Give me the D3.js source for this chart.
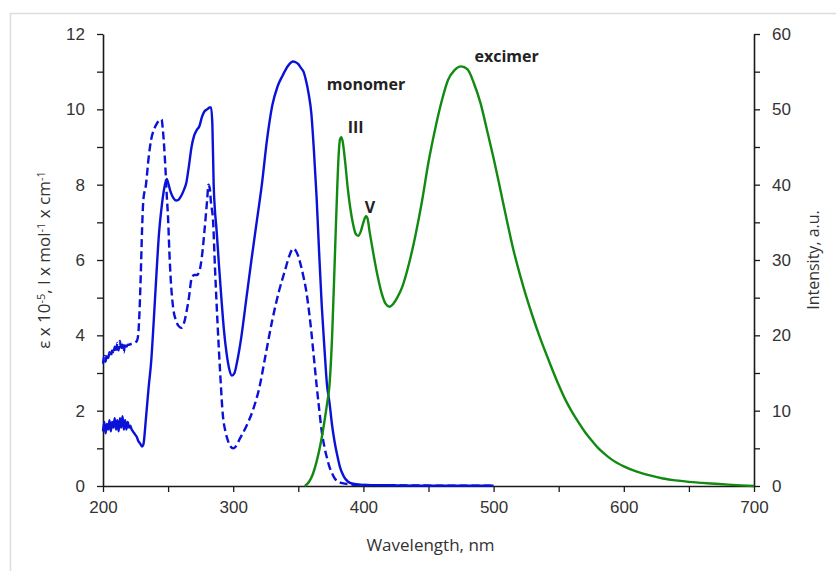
<!DOCTYPE html>
<html>
<head>
<meta charset="utf-8">
<script src="https://cdn.jsdelivr.net/npm/d3@7"></script>
<style>
  body { margin: 0; background: #fff; }
  svg { display: block; font-family: 'Open Sans', sans-serif; }
</style>
</head>
<body>
<div id="chart-area"></div>
<script>

// absorption, solid line (left axis): [wavelength, epsilon]
const absSolid = [
  [200,1.45],[201,1.7],[202,1.4],[203,1.65],[204,1.5],[205,1.75],[206,1.45],[207,1.7],[208,1.55],[209,1.8],
  [210,1.5],[211,1.75],[212,1.45],[213,1.8],[214,1.55],[215,1.85],[216,1.5],[217,1.75],[218,1.5],[219,1.7],
  [220,1.55],[221,1.6],[222,1.5],[223,1.45],[224,1.4],[225,1.35],[226,1.3],[227,1.2],[228,1.15],[229,1.1],
  [230,1.05],[231,1.1],[233,1.8],[235,2.6],[237,3.3],[239,4.4],[241,5.6],[243,6.7],[245,7.4],[247,7.9],
  [249,8.15],[250,8.05],[252,7.8],[254,7.65],[256,7.58],[258,7.6],[260,7.7],[262,7.85],[264,8.05],[266,8.5],
  [268,9.0],[270,9.3],[272,9.45],[274,9.55],[276,9.8],[278,9.95],[280,10.0],[282,10.05],[283,10.05],[284,9.6],
  [285,8.0],[286,7.3],[287,6.9],[289,5.9],[291,4.95],[293,4.1],[295,3.5],[297,3.1],[299,2.93],[301,3.0],
  [303,3.3],[306,3.9],[310,4.95],[314,6.0],[318,7.0],[322,8.0],[326,9.2],[330,10.1],[334,10.6],[338,10.9],
  [342,11.15],[346,11.27],[348,11.25],[350,11.2],[352,11.1],[354,11.0],[356,10.75],[358,10.4],[360,9.9],[362,8.9],
  [364,7.7],[366,6.2],[368,4.8],[370,3.7],[372,2.7],[374,2.2],[376,1.6],[378,1.15],[380,0.8],[382,0.5],
  [385,0.25],[388,0.12],[392,0.06],[400,0.03],[420,0.02],[450,0.01],[500,0.01]
];

// absorption, dashed line (left axis)
const absDashed = [
  [200,3.25],[201,3.45],[202,3.3],[203,3.5],[204,3.4],[205,3.55],[206,3.45],[207,3.6],[208,3.5],[209,3.7],
  [210,3.55],[211,3.8],[212,3.6],[213,3.85],[214,3.6],[215,3.75],[216,3.55],[217,3.8],[218,3.7],[219,3.75],
  [220,3.75],[222,3.78],[224,3.8],[226,3.85],[227,4.0],[228,4.6],[229,5.6],[230,6.8],[231,7.6],[233,8.0],
  [235,8.7],[237,9.2],[239,9.45],[241,9.6],[243,9.7],[245,9.73],[246,9.45],[247,9.0],[248,8.4],[249,7.7],
  [250,7.1],[251,6.2],[252,5.5],[254,4.7],[256,4.4],[258,4.25],[260,4.2],[262,4.3],[264,4.6],[266,5.0],
  [268,5.5],[270,5.6],[272,5.6],[274,5.7],[276,6.1],[278,6.8],[280,7.6],[281,8.0],[282,7.9],[283,7.5],
  [284.5,7.07],[286,5.8],[288,4.3],[290,3.0],[292,1.9],[294,1.45],[296,1.2],[298,1.05],[300,1.0],[302,1.05],
  [305,1.25],[310,1.58],[315,2.0],[320,2.6],[325,3.5],[330,4.4],[335,5.15],[340,5.75],[343,6.1],[346,6.3],
  [348,6.25],[350,6.1],[352,5.85],[354,5.55],[356,5.2],[358,4.7],
  [360,4.1],[362,3.4],[364,2.7],[366,2.05],[368,1.45],[370,1.05],[372,0.75],[374,0.5],[376,0.33],[378,0.2],
  [380,0.13],[383,0.08],[388,0.05],[395,0.03],[420,0.02],[460,0.01],[500,0.01]
];

// fluorescence (right axis): [wavelength, intensity]
const emission = [
  [355,0],[358,0.5],[361,1.5],[364,3.2],[367,5.5],[370,8.5],[372,10.8],[374,13.5],[376,20],[378,30],
  [380,40],[381,44],[382,46],[383,46.3],[384,45.8],[386,43],[388,39.5],[390,36.8],[392,34.8],[394,33.5],
  [396,33.2],[398,33.8],[400,35],[402,35.8],[403,35.6],[405,33.5],[408,30.5],[411,27.8],[414,25.6],[417,24.2],
  [420,23.8],[423,24.2],[426,25],[430,26.5],[435,29.5],[440,33.3],[445,37.8],[450,43],[455,47.3],[460,51],
  [465,53.9],[470,55.2],[475,55.7],[480,55.3],[485,53.4],[490,50.8],[495,47.2],[500,43.5],[505,39.5],[510,35.4],
  [515,31.5],[520,28.2],[525,25.2],[530,22.5],[535,20.0],[540,17.7],[545,15.5],[550,13.4],[555,11.5],[560,9.9],
  [565,8.5],[570,7.2],[575,6.1],[580,5.1],[585,4.3],[590,3.6],[600,2.6],[610,1.9],[620,1.4],[630,1.0],
  [640,0.75],[650,0.55],[660,0.42],[670,0.3],[680,0.18],[690,0.08],[700,0]
];

// peak labels: [text, wavelength, intensity (right axis) of the baseline]
const peakLabels = [
  ['monomer', 402, 52.6],
  ['III', 394, 46.9],
  ['V', 405, 36.3],
  ['excimer', 510, 56.3],
];

const xTicks = d3.range(200, 701, 50);
const yLeftTicks = d3.range(0, 13, 1);
const yRightTicks = d3.range(0, 61, 5);

const margin = { top: 34, right: 82, bottom: 85, left: 103 };
const widthSvg = 836;
const heightSvg = 571;
const widthChart = widthSvg - margin.left - margin.right;
const heightChart = heightSvg - margin.top - margin.bottom;

const svg = d3.select('#chart-area').append('svg')
  .attr('width', widthSvg)
  .attr('height', heightSvg);

// light frame of the original figure
svg.append('rect')
  .attr('x', 10.5).attr('y', 13.5)
  .attr('width', 840).attr('height', 580)
  .attr('fill', 'none')
  .attr('stroke', '#dcdcdc')
  .attr('stroke-width', 1.5);

const chart = svg.append('g')
  .attr('transform', `translate(${margin.left}, ${margin.top})`);

const scaleX = d3.scaleLinear().domain([200, 700]).range([0, widthChart]);
const scaleYLeft = d3.scaleLinear().domain([0, 12]).range([heightChart, 0]);
const scaleYRight = d3.scaleLinear().domain([0, 60]).range([heightChart, 0]);

const styleAxis = g => {
  g.select('.domain').attr('stroke', '#1a1a1a').attr('stroke-width', 1.6);
  g.selectAll('.tick line').attr('stroke', '#1a1a1a').attr('stroke-width', 1.3);
  g.selectAll('.tick text').attr('fill', '#333').attr('font-size', '17px');
};

const axisGroupX = chart.append('g')
  .attr('transform', `translate(0, ${heightChart})`)
  .call(d3.axisBottom(scaleX).tickValues(xTicks).tickSize(6).tickSizeOuter(0)
    .tickFormat(d => d % 100 === 0 ? d : ''))
  .call(styleAxis);
axisGroupX.selectAll('.tick text').attr('dy', '1.05em');

chart.append('g')
  .call(d3.axisLeft(scaleYLeft).tickValues(yLeftTicks).tickSize(6).tickSizeOuter(0)
    .tickPadding(12).tickFormat(d => d % 2 === 0 ? d : ''))
  .call(styleAxis);

chart.append('g')
  .attr('transform', `translate(${widthChart}, 0)`)
  .call(d3.axisRight(scaleYRight).tickValues(yRightTicks).tickSize(6).tickSizeOuter(0)
    .tickPadding(12).tickFormat(d => d % 10 === 0 ? d : ''))
  .call(styleAxis);

// axis titles
chart.append('text')
  .text('Wavelength, nm')
    .attr('x', widthChart / 2 + 2)
    .attr('y', heightChart + 65)
    .attr('text-anchor', 'middle')
    .attr('font-size', '17px')
    .attr('fill', '#333');

const titleLeft = chart.append('text')
  .attr('transform', `translate(-53, ${heightChart / 2})rotate(-90)`)
  .attr('text-anchor', 'middle')
  .attr('font-size', '17px')
  .attr('fill', '#333');
[['ε x 10', false], ['-5', true], [', l x mol', false], ['-1', true], [' x cm', false], ['-1', true]]
  .forEach(([t, sup]) => {
    titleLeft.append('tspan')
      .text(t)
      .attr('font-size', sup ? '11px' : null)
      .attr('baseline-shift', sup ? '45%' : null);
  });

chart.append('text')
  .text('Intensity, a.u.')
    .attr('transform', `translate(${widthChart + 65}, ${heightChart / 2})rotate(-90)`)
    .attr('text-anchor', 'middle')
    .attr('font-size', '16px')
    .attr('fill', '#333');

// curves
const lineLeft = d3.line()
  .x(d => scaleX(d[0]))
  .y(d => scaleYLeft(d[1]))
  .curve(d3.curveMonotoneX);

const lineRight = d3.line()
  .x(d => scaleX(d[0]))
  .y(d => scaleYRight(d[1]))
  .curve(d3.curveMonotoneX);

chart.append('path')
  .datum(absDashed)
  .attr('d', lineLeft)
  .attr('fill', 'none')
  .attr('stroke', '#0a12d8')
  .attr('stroke-width', 2.4)
  .attr('stroke-dasharray', '8,4');

chart.append('path')
  .datum(absSolid)
  .attr('d', lineLeft)
  .attr('fill', 'none')
  .attr('stroke', '#0a12d8')
  .attr('stroke-width', 2.4);

chart.append('path')
  .datum(emission)
  .attr('d', lineRight)
  .attr('fill', 'none')
  .attr('stroke', '#128a12')
  .attr('stroke-width', 2.4);

// peak labels
chart.selectAll('.peak-label')
  .data(peakLabels)
  .enter()
  .append('text')
    .attr('class', 'peak-label')
    .attr('x', d => scaleX(d[1]))
    .attr('y', d => scaleYRight(d[2]))
    .attr('text-anchor', 'middle')
    .attr('font-size', '16px')
    .attr('font-weight', 'bold')
    .attr('fill', '#222')
    .text(d => d[0]);

</script>
</body>
</html>
